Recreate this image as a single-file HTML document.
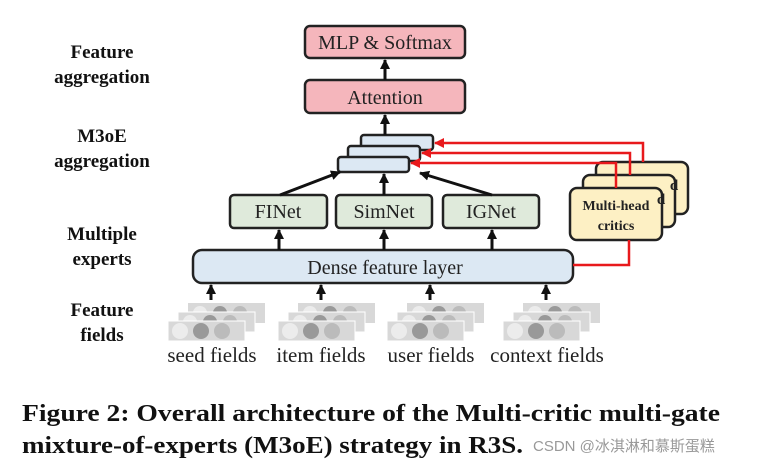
<!DOCTYPE html><html><head><style>body{margin:0;background:#fff}svg{display:block}</style></head><body>
<svg width="782" height="470" xmlns="http://www.w3.org/2000/svg" font-family="Liberation Serif, serif">
<defs><marker id="a" markerWidth="10" markerHeight="10" refX="9" refY="5" orient="auto" markerUnits="userSpaceOnUse"><path d="M0,0L10,5L0,10z" fill="#111"/></marker>
<marker id="r" markerWidth="10" markerHeight="10" refX="9" refY="5" orient="auto" markerUnits="userSpaceOnUse"><path d="M0,0L10,5L0,10z" fill="#e8191c"/></marker></defs>
<g font-weight="bold" font-size="19" text-anchor="middle" fill="#111">
<text x="102" y="58">Feature</text><text x="102" y="83">aggregation</text>
<text x="102" y="142">M3oE</text><text x="102" y="167">aggregation</text>
<text x="102" y="240">Multiple</text><text x="102" y="265">experts</text>
<text x="102" y="316">Feature</text><text x="102" y="341">fields</text></g>
<g stroke="#222" stroke-width="2.5">
<rect x="305" y="26" width="160" height="32" rx="5" fill="#f5b6bc"/>
<rect x="305" y="80" width="160" height="33" rx="5" fill="#f5b6bc"/>
<rect x="361" y="135" width="72" height="15" rx="3" fill="#dce8f3"/>
<rect x="348" y="146" width="72" height="15" rx="3" fill="#dce8f3"/>
<rect x="338" y="157" width="71" height="15" rx="3" fill="#dce8f3"/>
<rect x="230" y="195" width="97" height="33" rx="4" fill="#dfeadb"/>
<rect x="336" y="195" width="96" height="33" rx="4" fill="#dfeadb"/>
<rect x="443" y="195" width="96" height="33" rx="4" fill="#dfeadb"/>
<rect x="193" y="250" width="380" height="33" rx="9" fill="#dce8f3"/>
<rect x="596" y="162" width="92" height="52" rx="7" fill="#fdf0c4"/>
<rect x="583" y="175" width="92" height="52" rx="7" fill="#fdf0c4"/>
<rect x="570" y="188" width="92" height="52" rx="7" fill="#fdf0c4"/>
</g>
<g font-size="20" text-anchor="middle" fill="#222">
<text x="385" y="49">MLP &amp; Softmax</text><text x="385" y="104">Attention</text>
<text x="278" y="218">FINet</text><text x="384" y="218">SimNet</text><text x="491" y="218">IGNet</text>
<text x="385" y="274">Dense feature layer</text>
<text x="674" y="190" font-weight="bold" font-size="15">d</text><text x="661" y="204" font-weight="bold" font-size="15">d</text>
<text x="616" y="210" font-weight="bold" font-size="14">Multi-head</text><text x="616" y="230" font-weight="bold" font-size="14">critics</text>
<g font-size="21"><text x="212" y="362">seed fields</text><text x="321" y="362">item fields</text><text x="431" y="362">user fields</text><text x="547" y="362">context fields</text></g>
</g>
<g stroke="#111" stroke-width="3" marker-end="url(#a)">
<line x1="385" y1="80" x2="385" y2="60"/><line x1="385" y1="135" x2="385" y2="115"/>
<line x1="280" y1="195" x2="340" y2="172"/><line x1="384" y1="195" x2="384" y2="174"/><line x1="492" y1="195" x2="420" y2="173"/>
<line x1="279" y1="250" x2="279" y2="230"/><line x1="384" y1="250" x2="384" y2="230"/><line x1="492" y1="250" x2="492" y2="230"/>
<line x1="211" y1="300" x2="211" y2="285"/><line x1="321" y1="300" x2="321" y2="285"/><line x1="430" y1="300" x2="430" y2="285"/><line x1="546" y1="300" x2="546" y2="285"/>
</g>
<g stroke="#e8191c" stroke-width="2.5" fill="none">
<polyline points="573,265 629,265 629,240"/>
<polyline points="616,188 616,163 411,163" marker-end="url(#r)"/>
<polyline points="630,175 630,153 422,153" marker-end="url(#r)"/>
<polyline points="643,162 643,143 435,143" marker-end="url(#r)"/>
</g>
<g id="f">
<rect x="188" y="303" width="77" height="20" fill="#d8d8d8"/>
<circle cx="200" cy="313" r="7" fill="#ececec"/><circle cx="220" cy="313" r="7" fill="#999"/><circle cx="240" cy="313" r="7" fill="#bbb"/>
<rect x="178" y="312" width="77" height="20" fill="#d8d8d8" stroke="#fff"/>
<circle cx="190" cy="322" r="7" fill="#ececec"/><circle cx="210" cy="322" r="7" fill="#999"/><circle cx="230" cy="322" r="7" fill="#bbb"/>
<rect x="168" y="321" width="77" height="20" fill="#d8d8d8" stroke="#fff"/>
<circle cx="180" cy="331" r="8" fill="#ececec"/><circle cx="201" cy="331" r="8" fill="#999"/><circle cx="222" cy="331" r="8" fill="#bbb"/>
</g>
<use href="#f" x="110"/><use href="#f" x="219"/><use href="#f" x="335"/>
<g font-weight="bold" font-size="24" fill="#111">
<text x="22" y="421" textLength="698" lengthAdjust="spacingAndGlyphs">Figure 2: Overall architecture of the Multi-critic multi-gate</text>
<text x="22" y="453" textLength="501" lengthAdjust="spacingAndGlyphs">mixture-of-experts (M3oE) strategy in R3S.</text></g>
<text x="533" y="451" font-family="Liberation Sans, Noto Sans CJK SC, sans-serif" font-size="15" fill="#999">CSDN @冰淇淋和慕斯蛋糕</text>
</svg></body></html>
